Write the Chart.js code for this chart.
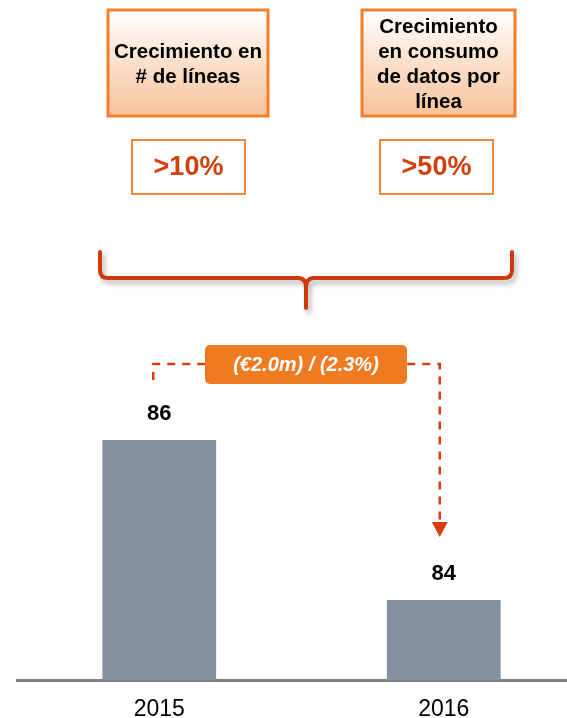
<!DOCTYPE html>
<html lang="es">
<head>
<meta charset="utf-8">
<title>Ingresos 2015 - 2016</title>
<script src="https://cdn.jsdelivr.net/npm/chart.js@4.4.0/dist/chart.umd.min.js"></script>
<style>
  html, body { margin: 0; padding: 0; background: #fff; overflow: hidden; }
  #wrap { position: relative; width: 600px; height: 718px; }
</style>
</head>
<body>
<div id="wrap"><canvas id="chart" width="600" height="718"></canvas></div>
<script>
const years = ["2015", "2016"];
const revenue = [86, 84];
const driverTitles = [
  ["Crecimiento en", "# de líneas"],
  ["Crecimiento", "en consumo", "de datos por", "línea"]
];
const driverValues = [">10%", ">50%"];
const changeLabel = "(€2.0m) / (2.3%)";

const FONT = '"Liberation Sans", Arial, sans-serif';
const ORANGE = "#f07a22";
const RED = "#d2400f";

// growth drivers at the top: title box + value box
const driverBoxes = [
  { x: 108, w: 160, vx: 132, vw: 113 },
  { x: 362, w: 153, vx: 380, vw: 113 }
];

function drawDrivers(ctx) {
  driverBoxes.forEach((b, i) => {
    const g = ctx.createLinearGradient(0, 10, 0, 116);
    g.addColorStop(0, "#ffffff");
    g.addColorStop(0.45, "#fbe3d0");
    g.addColorStop(1, "#f6c29b");
    ctx.fillStyle = g;
    ctx.fillRect(b.x, 10, b.w, 106);
    ctx.strokeStyle = "#f07f2c";
    ctx.lineWidth = 3;
    ctx.strokeRect(b.x, 10, b.w, 106);

    const lines = driverTitles[i];
    ctx.fillStyle = "#000";
    ctx.font = "bold 20.5px " + FONT;
    ctx.textAlign = "center";
    ctx.textBaseline = "middle";
    const cx = b.x + b.w / 2;
    const y0 = 64.5 - (lines.length - 1) * 12.5;
    lines.forEach((t, k) => ctx.fillText(t, cx, y0 + k * 25));

    ctx.fillStyle = "#fff";
    ctx.fillRect(b.vx, 140, b.vw, 54);
    ctx.strokeStyle = "#f2883c";
    ctx.lineWidth = 2;
    ctx.strokeRect(b.vx, 140, b.vw, 54);
    ctx.fillStyle = RED;
    ctx.font = "bold 27px " + FONT;
    ctx.fillText(driverValues[i], b.vx + b.vw / 2, 168);
  });
}

function drawBrace(ctx) {
  ctx.save();
  ctx.strokeStyle = "#cf3a0b";
  ctx.lineWidth = 4;
  ctx.lineCap = "round";
  ctx.lineJoin = "round";
  ctx.shadowColor = "rgba(0,0,0,0.28)";
  ctx.shadowBlur = 5;
  ctx.shadowOffsetX = 3;
  ctx.shadowOffsetY = 4;
  ctx.beginPath();
  ctx.moveTo(100, 252);
  ctx.lineTo(100, 270);
  ctx.quadraticCurveTo(100, 278, 108, 278);
  ctx.lineTo(298, 278);
  ctx.quadraticCurveTo(306, 278, 306, 288);
  ctx.lineTo(306, 308);
  ctx.moveTo(512, 252);
  ctx.lineTo(512, 270);
  ctx.quadraticCurveTo(512, 278, 504, 278);
  ctx.lineTo(314, 278);
  ctx.quadraticCurveTo(306, 278, 306, 288);
  ctx.stroke();
  ctx.restore();
}

function drawChange(ctx, xScale) {
  const xl = xScale.getPixelForValue(0) - 6;
  const xr = xScale.getPixelForValue(1) - 4;
  const yLine = 364;
  ctx.save();
  ctx.strokeStyle = "#d63e10";
  ctx.lineWidth = 2.5;
  ctx.setLineDash([8, 7]);
  ctx.beginPath();
  ctx.moveTo(xl, 380);
  ctx.lineTo(xl, yLine);
  ctx.lineTo(xr, yLine);
  ctx.lineTo(xr, 522);
  ctx.stroke();
  ctx.setLineDash([]);
  ctx.fillStyle = "#d63e10";
  ctx.beginPath();
  ctx.moveTo(xr - 8, 522);
  ctx.lineTo(xr + 8, 522);
  ctx.lineTo(xr, 537);
  ctx.closePath();
  ctx.fill();

  ctx.fillStyle = ORANGE;
  ctx.beginPath();
  ctx.roundRect(205, 345, 202, 39, 5);
  ctx.fill();
  ctx.fillStyle = "#fff";
  ctx.font = "italic bold 20px " + FONT;
  ctx.textAlign = "center";
  ctx.textBaseline = "middle";
  ctx.fillText(changeLabel, 306, 365);
  ctx.restore();
}

const annotations = {
  id: "annotations",
  afterDraw(chart) {
    const ctx = chart.ctx;
    drawDrivers(ctx);
    drawBrace(ctx);
    drawChange(ctx, chart.scales.x);
  }
};

const valueLabels = {
  id: "valueLabels",
  afterDatasetsDraw(chart) {
    const ctx = chart.ctx;
    const meta = chart.getDatasetMeta(0);
    ctx.save();
    ctx.fillStyle = "#000";
    ctx.font = "bold 22px " + FONT;
    ctx.textAlign = "center";
    ctx.textBaseline = "middle";
    meta.data.forEach((bar, i) => {
      ctx.fillText(String(revenue[i]), bar.x, bar.y - 26);
    });
    ctx.restore();
  }
};

new Chart(document.getElementById("chart"), {
  type: "bar",
  data: {
    labels: years,
    datasets: [{
      data: revenue,
      backgroundColor: "#8591a1",
      borderWidth: 0,
      barPercentage: 0.4,
      categoryPercentage: 1
    }]
  },
  options: {
    responsive: false,
    animation: false,
    devicePixelRatio: 1,
    layout: { padding: { left: 17, right: 14, top: 0, bottom: 0 } },
    plugins: { legend: { display: false }, tooltip: { enabled: false } },
    scales: {
      x: {
        grid: { display: false, drawTicks: false },
        border: { display: true, color: "#808080", width: 3 },
        ticks: {
          color: "#000",
          padding: 18,
          font: { family: FONT, size: 23, lineHeight: 1 }
        },
        afterFit(scale) { scale.height = 38; }
      },
      y: { display: false, min: 83, max: 91.5 }
    }
  },
  plugins: [valueLabels, annotations]
});
</script>
</body>
</html>
